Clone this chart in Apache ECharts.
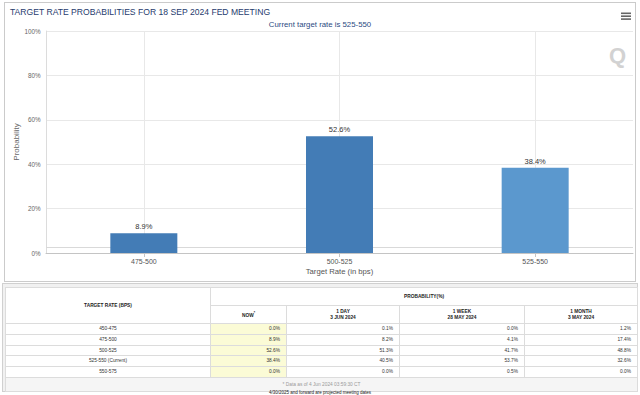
<!DOCTYPE html>
<html>
<head>
<meta charset="utf-8">
<script src="https://cdn.jsdelivr.net/npm/echarts@6/dist/echarts.min.js"></script>
<style>
  html, body { margin: 0; padding: 0; background: #fff; width: 640px; height: 395px; overflow: hidden; font-family: "Liberation Sans", Arial, sans-serif; }
  #frame { position: absolute; left: 4px; top: 2px; width: 632px; height: 280px; border: 1px solid #cbcbcb; box-sizing: border-box; }
  #chart { position: absolute; left: 0; top: 0; width: 640px; height: 285px; }
  #tableWrap { position: absolute; left: 2px; top: 283px; width: 636px; height: 109px; background: #f1f1f1; border: 1px solid #d0d0d0; box-sizing: border-box; }
  #probTable { position: absolute; left: 2px; top: 3px; width: 632px; border-collapse: collapse; table-layout: fixed; background: #fff; }
  #probTable td, #probTable th { border: 1px solid #dcdcdc; font-size: 4.8px; color: #333; padding: 0 6px; overflow: hidden; white-space: nowrap; }
  #probTable th { font-weight: bold; text-align: center; height: 17px; line-height: 6px; color: #222; }
  #probTable td { height: 9.8px; line-height: 9.8px; }
  #probTable td.rate { text-align: center; }
  #probTable td.val { text-align: right; }
  #probTable td.now { background: #fbfbd6; }
  #probTable td.foot { text-align: center; color: #9a9a9a; background: #f5f5f5; height: 13px; line-height: 13px; }
  #note { position: absolute; left: 0; top: 391px; width: 640px; text-align: center; font-size: 4.5px; line-height: 4px; color: #222; }
</style>
</head>
<body>
<div id="frame"></div>
<div id="chart"></div>
<div id="tableWrap"><table id="probTable"></table></div>
<div id="note">4/30/2025 and forward are projected meeting dates</div>
<script>
// ---- chart data ----
const titleText = 'TARGET RATE PROBABILITIES FOR 18 SEP 2024 FED MEETING';
const subtitleText = 'Current target rate is 525-550';
const categories = ['475-500', '500-525', '525-550'];
const probabilities = [8.9, 52.6, 38.4];
const barColors = ['#437cb6', '#437cb6', '#5b98ce'];
const yTickValues = [0, 20, 40, 60, 80, 100];
const referenceLineValue = 2.7;

// ---- table data ----
const tableRates = ['450-475', '475-500', '500-525', '525-550 (Current)', '550-575'];
const tableNow = ['0.0%', '8.9%', '52.6%', '38.4%', '0.0%'];
const table1Day = ['0.1%', '8.2%', '51.3%', '40.5%', '0.0%'];
const table1Week = ['0.0%', '4.1%', '41.7%', '53.7%', '0.5%'];
const table1Month = ['1.2%', '17.4%', '48.8%', '32.6%', '0.0%'];
const tableColHeads = [['NOW', '*'], ['1 DAY', '3 JUN 2024'], ['1 WEEK', '28 MAY 2024'], ['1 MONTH', '3 MAY 2024']];
const tableFooter = '* Data as of 4 Jun 2024 03:59:30 CT';

const chart = echarts.init(document.getElementById('chart'), null, { renderer: 'svg' });
const font = '"Liberation Sans", Arial, sans-serif';

chart.setOption({
  animation: false,
  backgroundColor: 'transparent',
  title: [
    { text: titleText, left: 10, top: 7.5, padding: 0, textStyle: { fontSize: 8.6, fontWeight: 'normal', color: '#1f3b6d', fontFamily: font } },
    { text: subtitleText, left: 'center', top: 20.5, padding: 0, textStyle: { fontSize: 7.8, fontWeight: 'normal', color: '#2b4a82', fontFamily: font } }
  ],
  grid: { left: 46, right: 7, top: 31, bottom: 32, containLabel: false, outerBoundsMode: 'none' },
  xAxis: {
    type: 'category',
    data: categories,
    name: 'Target Rate (in bps)',
    nameLocation: 'middle',
    nameGap: 14,
    nameMoveOverlap: false,
    nameTextStyle: { fontSize: 7.7, color: '#555', fontFamily: font },
    axisLine: { lineStyle: { color: '#c4c4c4' } },
    axisTick: { show: true, alignWithLabel: true, length: 4, lineStyle: { color: '#c4c4c4' } },
    axisLabel: { fontSize: 7, color: '#555', margin: 5, fontFamily: font },
    splitLine: { show: true, alignWithLabel: true, lineStyle: { color: '#e8e8e8' } }
  },
  yAxis: {
    type: 'value',
    min: yTickValues[0],
    max: yTickValues[yTickValues.length - 1],
    interval: yTickValues[1] - yTickValues[0],
    name: 'Probability',
    nameLocation: 'middle',
    nameGap: 26,
    nameMoveOverlap: false,
    nameTextStyle: { fontSize: 8, color: '#666', fontFamily: font },
    axisLine: { show: true, lineStyle: { color: '#dcdcdc' } },
    axisTick: { show: false },
    axisLabel: { formatter: '{value}%', fontSize: 6.3, color: '#666', margin: 5.5, fontFamily: font },
    splitLine: { show: true, lineStyle: { color: '#e8e8e8' } }
  },
  graphic: [
    { type: 'rect', shape: { x: 621, y: 12.5, width: 10, height: 1.6 }, style: { fill: '#666' } },
    { type: 'rect', shape: { x: 621, y: 15.4, width: 10, height: 1.6 }, style: { fill: '#666' } },
    { type: 'rect', shape: { x: 621, y: 18.3, width: 10, height: 1.6 }, style: { fill: '#666' } },
    { type: 'text', left: 609, top: 44, style: { text: 'Q', fontSize: 22, fontWeight: 'bold', fill: '#d2d2d2', fontFamily: font } }
  ],
  series: [
    {
      type: 'line',
      data: [],
      z: 1,
      markLine: {
        silent: true, symbol: ['none', 'none'], z: 1,
        label: { show: false },
        lineStyle: { color: '#d9d9d9', type: 'solid', width: 1 },
        data: [{ yAxis: referenceLineValue }]
      }
    },
    {
      type: 'bar',
      z: 3,
      barWidth: 67,
      data: probabilities.map((v, i) => ({ value: v, itemStyle: { color: barColors[i] } })),
      label: {
        show: true, position: 'top', distance: 2.5,
        formatter: p => p.value.toFixed(1) + '%',
        fontSize: 7.5, color: '#333', fontFamily: font
      }
    }
  ]
});

// ---- build table from arrays ----
const tbl = document.getElementById('probTable');
let html = '<colgroup><col style="width:205px"><col style="width:76px"><col style="width:113px"><col style="width:125px"><col style="width:113px"></colgroup>';
html += '<tr><th rowspan="2">TARGET RATE (BPS)</th><th colspan="4">PROBABILITY(%)</th></tr>';
html += '<tr>' + tableColHeads.map((h, i) => i === 0 ? '<th>' + h[0] + '<sup style="font-size:3.5px">' + h[1] + '</sup></th>' : '<th>' + h[0] + '<br>' + h[1] + '</th>').join('') + '</tr>';
for (let i = 0; i < tableRates.length; i++) {
  html += '<tr><td class="rate">' + tableRates[i] + '</td><td class="val now">' + tableNow[i] + '</td><td class="val">' + table1Day[i] + '</td><td class="val">' + table1Week[i] + '</td><td class="val">' + table1Month[i] + '</td></tr>';
}
html += '<tr><td class="foot" colspan="5">' + tableFooter + '</td></tr>';
tbl.innerHTML = html;
</script>
</body>
</html>
